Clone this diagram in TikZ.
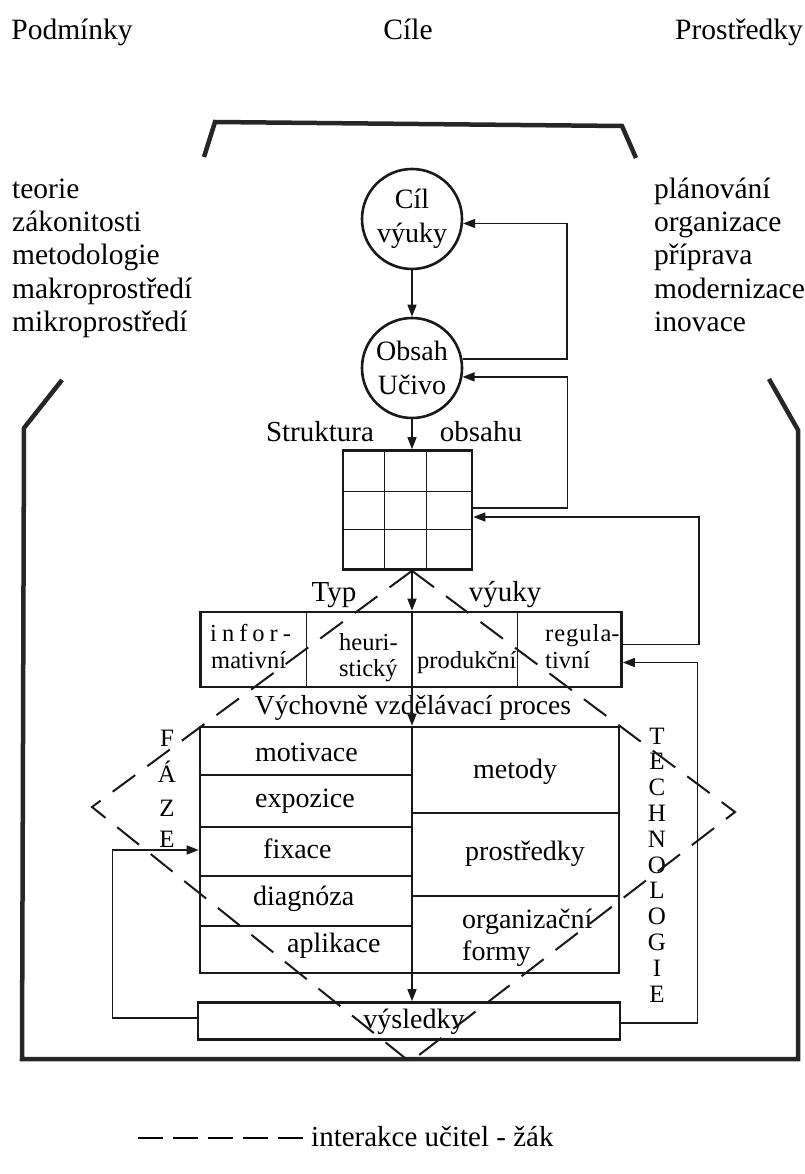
\documentclass[tikz,border=0pt]{standalone}
\usepackage{fontspec}
\setmainfont{Liberation Serif}
\usetikzlibrary{arrows.meta,calc}
\begin{document}
\begin{tikzpicture}[x=1pt,y=-1pt,
  every node/.style={inner sep=0pt, font=\fontsize{28}{32}\selectfont},
  big/.style={font=\fontsize{29.5}{33}\selectfont},
  lab/.style={font=\fontsize{29}{33}\selectfont},
  small/.style={font=\fontsize{24.5}{28}\selectfont},
  frameline/.style={line width=4.5pt, draw=black!85, line join=miter},
  boxline/.style={line width=2.6pt, draw=black!90},
  conn/.style={line width=1.4pt, draw=black!90},
  arr/.style={-{Triangle[length=12pt,width=9pt]}},
  inter/.style={line width=2pt, draw=black!90, dash pattern=on 28pt off 15pt},
  circ/.style={circle, boxline, minimum size=100pt, align=center, font=\fontsize{28}{34}\selectfont},
  letter/.style={font=\fontsize{25}{28}\selectfont}
]
\useasboundingbox (0,0) rectangle (804,1174);

% top headings
\node[big, anchor=base] (podm) at (72,40) {Podmínky};
\node[big, anchor=base] (cile) at (408,40) {Cíle};
\node[big, anchor=base] (prost) at (739,40) {Prostředky};

% top bracket
\draw[frameline] (204,157) -- (215,122) -- (622,126) -- (636,158);

% outer frame
\draw[frameline] (62,380) -- (24,428) -- (22,1059) -- (798,1059) -- (798,430) -- (769,379);

% side texts
\node[big, anchor=base west] (c1) at (12,199) {teorie};
\node[big, anchor=base west] (c2) at (12,232) {zákonitosti};
\node[big, anchor=base west] (c3) at (12,265) {metodologie};
\node[big, anchor=base west] (c4) at (12,298) {makroprostředí};
\node[big, anchor=base west] (c5) at (12,331) {mikroprostředí};
\node[big, anchor=base west] (p1) at (654,199) {plánování};
\node[big, anchor=base west] (p2) at (654,232) {organizace};
\node[big, anchor=base west] (p3) at (654,265) {příprava};
\node[big, anchor=base west] (p4) at (654,298) {modernizace};
\node[big, anchor=base west] (p5) at (654,331) {inovace};

% circles
\node[circ] (cil) at (412,219) {Cíl\\výuky};
\node[circ] (obsah) at (412,368) {Obsah\\Učivo};

% grid
\node[boxline, draw, rectangle, minimum width=129pt, minimum height=119pt] (grid) at (407.5,510) {};
\draw[conn] ($(grid.north west)+(43,0)$) -- ($(grid.south west)+(43,0)$);
\draw[conn] ($(grid.north west)+(85,0)$) -- ($(grid.south west)+(85,0)$);
\draw[conn] ($(grid.north west)+(0,42)$) -- ($(grid.north east)+(0,42)$);
\draw[conn] ($(grid.north west)+(0,80)$) -- ($(grid.north east)+(0,80)$);
\node[lab, anchor=base] (strk) at (320,441) {Struktura};
\node[lab, anchor=base] (obsh) at (481,441) {obsahu};

% type box
\node[boxline, draw, rectangle, minimum width=421pt, minimum height=75pt] (typ) at (411,649.5) {};
\draw[conn] ($(typ.north west)+(107,0)$) -- ($(typ.south west)+(107,0)$);
\draw[conn] ($(typ.north west)+(318,0)$) -- ($(typ.south west)+(318,0)$);
\node[lab, anchor=base] (typl) at (334,601) {Typ};
\node[lab, anchor=base] (vyuk) at (505,601) {výuky};
\node[small, anchor=base west] (inf1) at (210,641) {i\kern5pt n\kern5pt f\kern5pt o\kern5pt r\kern5pt -};
\node[small, anchor=base west] (inf2) at (211,668) {mativní};
\node[small, anchor=base west] (heu1) at (339,650) {heuri-};
\node[small, anchor=base west] (heu2) at (339,676) {stický};
\node[small, anchor=base west] (prod) at (417,668) {produkční};
\node[small, anchor=base west] (reg1) at (545,641) {r\kern1pt e\kern1pt g\kern1pt u\kern1pt l\kern1pt a-};
\node[small, anchor=base west] (reg2) at (545,668) {tivní};

\node[font=\fontsize{27.5}{31}\selectfont, anchor=base] (vvp) at (413,714) {Výchovně vzdělávací proces};

% process box
\node[boxline, draw, rectangle, minimum width=419pt, minimum height=246pt] (proc) at (409.5,850) {};
\draw[conn] (proc.north west |- 0,775) -- (412,775);
\draw[conn] (proc.north west |- 0,827) -- (412,827);
\draw[conn] (proc.north west |- 0,876) -- (412,876);
\draw[conn] (proc.north west |- 0,926) -- (412,926);
\draw[conn] (412,813) -- (proc.north east |- 0,813);
\draw[conn] (412,896) -- (proc.north east |- 0,896);
\node[anchor=base west] (mot) at (255,761) {motivace};
\node[anchor=base west] (exp) at (255,807) {expozice};
\node[anchor=base west] (fix) at (263,858) {fixace};
\node[anchor=base west] (dia) at (253,905) {diagnóza};
\node[anchor=base west] (apl) at (287,952) {aplikace};
\node[anchor=base west] (met) at (473,778) {metody};
\node[anchor=base west] (prs) at (465,860) {prostředky};
\node[anchor=base west] (org) at (462,928) {organizační};
\node[anchor=base west] (frm) at (462,960) {formy};

% results box
\node[boxline, draw, rectangle, minimum width=422pt, minimum height=37pt] (res) at (409,1021) {};
\node[anchor=base] (vys) at (414,1028) {výsledky};

% main vertical flow
\draw[conn, arr] (cil.south) -- (obsah.north);
\draw[conn, arr] (obsah.south) -- (obsah.south |- grid.north);
\draw[conn, arr] (obsah.south |- grid.south) -- (obsah.south |- typ.north);
\draw[conn] (obsah.south |- typ.north) -- (obsah.south |- typ.south);
\draw[conn, arr] (obsah.south |- typ.south) -- (obsah.south |- proc.north);
\draw[conn] (obsah.south |- proc.north) -- (obsah.south |- proc.south);
\draw[conn, arr] (obsah.south |- proc.south) -- (obsah.south |- res.north);

% feedback loops
\draw[conn, arr] (obsah.10) -- (567,0 |- obsah.10) |- (cil.-5);
\draw[conn, arr] ($(grid.east)+(0,-2)$) -- ++(94,0) |- (obsah.-10);
\draw[conn, arr] ($(typ.east)+(0,-5)$) -- ++(76,0) |- ($(grid.east)+(0,7)$);
\draw[conn, arr] ($(res.east)+(0,2)$) -- ++(76,0) |- ($(typ.east)+(0,13)$);
\draw[conn, arr] ($(res.west)+(0,-3)$) -- ++(-84,0) |- (proc.west);

% phases / technology letters
\node[letter, anchor=base] (f1) at (167,746) {F};
\node[letter, anchor=base] (f2) at (167,782) {Á};
\node[letter, anchor=base] (f3) at (167,816) {Z};
\node[letter, anchor=base] (f4) at (167,847) {E};
\foreach \l [count=\i from 0] in {T,E,C,H,N,O,L,O,G,I,E}
  \node[letter, anchor=base] (tech\i) at (657,{744+25.8*\i}) {\l};

% interaction diamond
\coordinate (dtop) at (obsah.south |- grid.south);
\coordinate (dleft) at (92,807);
\coordinate (dbot) at (410,1062);
\coordinate (dright) at (735,812);
\draw[inter] (dtop) -- (dleft) -- (dbot) -- (dright) -- cycle;

% legend
\coordinate (leg1) at (138,1138);
\coordinate (leg2) at (303,1138);
\draw[line width=1.6pt, dash pattern=on 25pt off 10pt] (leg1) -- (leg2);
\node[lab, anchor=base west] (legt) at (311,1146) {interakce učitel - žák};
\end{tikzpicture}
\end{document}
